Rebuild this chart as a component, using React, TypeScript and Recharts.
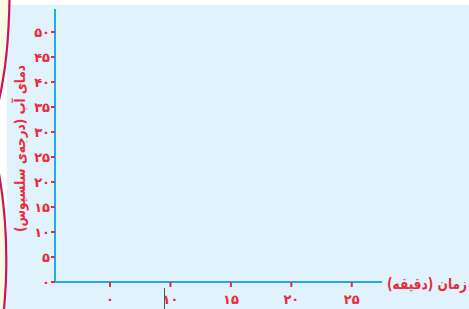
import React from 'react';
import { LineChart, Line, XAxis, YAxis } from 'recharts';

// Data
const minutes = [5, 10, 15, 20, 25];
const minuteLabels = ['۰', '۱۰', '۱۵', '۲۰', '۲۵'];
const temperatureTicks = [0, 5, 10, 15, 20, 25, 30, 35, 40, 45, 50];
const temperatureLabels = ['۰', '۵', '۱۰', '۱۵', '۲۰', '۲۵', '۳۰', '۳۵', '۴۰', '۴۵', '۵۰'];
const waterTemperature: (number | null)[] = [null, null, null, null, null];
const xAxisTitle = 'زمان (دقیقه)';
const yAxisTitle = 'دمای آب (درجه‌ی سلسیوس)';

const data = minutes.map((m, i) => ({ minute: m, temp: waterTemperature[i] }));

const RED = '#ec2a3a';
const BLUE = '#27a9e1';
const FONT = '"DejaVu Sans", sans-serif';

export default function App() {
  return (
    <div style={{ position: 'absolute', left: 0, top: 0, width: 469, height: 309, background: '#ffffff', overflow: 'hidden' }}>
      <div style={{ position: 'absolute', left: 7, top: 5, right: 0, bottom: 0, background: '#e0f2fc' }} />
      <svg width={20} height={309} style={{ position: 'absolute', left: 0, top: 0 }}>
        <path d="M -2 0 L 9.5 0 C 9 35, 6 70, -1 100 L -2 100 Z" fill="#fdf8e1" />
        <path d="M 9.5 -2 C 9 35, 6 70, -1 100" fill="none" stroke="#c2185b" strokeWidth={2.2} />
        <path d="M -2 168 C 4 200, 6.8 240, 6.2 270 C 6 290, 4.5 300, 4 311 L -2 311 Z" fill="#fdf8e1" />
        <path d="M -2 168 C 4 200, 6.8 240, 6.2 270 C 6 290, 4.5 300, 4 311" fill="none" stroke="#c2185b" strokeWidth={2.2} />
      </svg>
      <div style={{ position: 'absolute', left: 0, top: 0 }}>
        <LineChart width={469} height={309} data={data} margin={{ top: 9, right: 87, bottom: 0, left: 0 }} style={{ fontFamily: FONT }}>
          <XAxis
            dataKey="minute"
            type="number"
            domain={[0.45, 27.5]}
            allowDataOverflow
            ticks={minutes}
            tickFormatter={(v: number) => minuteLabels[minutes.indexOf(v)]}
            height={27}
            axisLine={{ stroke: BLUE, strokeWidth: 2 }}
            tickLine={{ stroke: RED, strokeWidth: 2 }}
            tickSize={5}
            tickMargin={8}
            tick={{ fill: RED, fontSize: 13, fontWeight: 'bold', fontFamily: FONT }}
            label={{
              content: (props: any) => {
                const vb = props.viewBox || {};
                return (
                  <text x={vb.x + vb.width + 5} y={vb.y + 7} fill={RED} fontSize={15} fontWeight="bold" fontFamily={FONT} direction="rtl" textAnchor="end" textLength={80} lengthAdjust="spacingAndGlyphs">
                    {xAxisTitle}
                  </text>
                );
              },
            }}
          />
          <YAxis
            type="number"
            domain={[0, 54.6]}
            allowDataOverflow
            ticks={temperatureTicks}
            interval={0}
            tickFormatter={(v: number) => temperatureLabels[temperatureTicks.indexOf(v)]}
            width={55}
            axisLine={{ stroke: BLUE, strokeWidth: 2 }}
            tickLine={{ stroke: RED, strokeWidth: 2 }}
            tickSize={4}
            tickMargin={1}
            tick={{ fill: RED, fontSize: 13, fontWeight: 'bold', fontFamily: FONT }}
            label={{
              content: (props: any) => {
                const vb = props.viewBox || {};
                const cx = 20;
                const cy = vb.y + vb.height / 2 + 3;
                return (
                  <text x={cx} y={cy} fill={RED} fontSize={14} fontWeight="bold" fontFamily={FONT} direction="rtl" textAnchor="middle" dominantBaseline="central" transform={`rotate(-90, ${cx}, ${cy})`} textLength={167} lengthAdjust="spacingAndGlyphs">
                    {yAxisTitle}
                  </text>
                );
              },
            }}
          />
          <Line dataKey="temp" stroke={RED} isAnimationActive={false} dot={false} />
        </LineChart>
      </div>
      <div style={{ position: 'absolute', left: 164, top: 288, width: 1, height: 21, background: '#555555' }} />
    </div>
  );
}
